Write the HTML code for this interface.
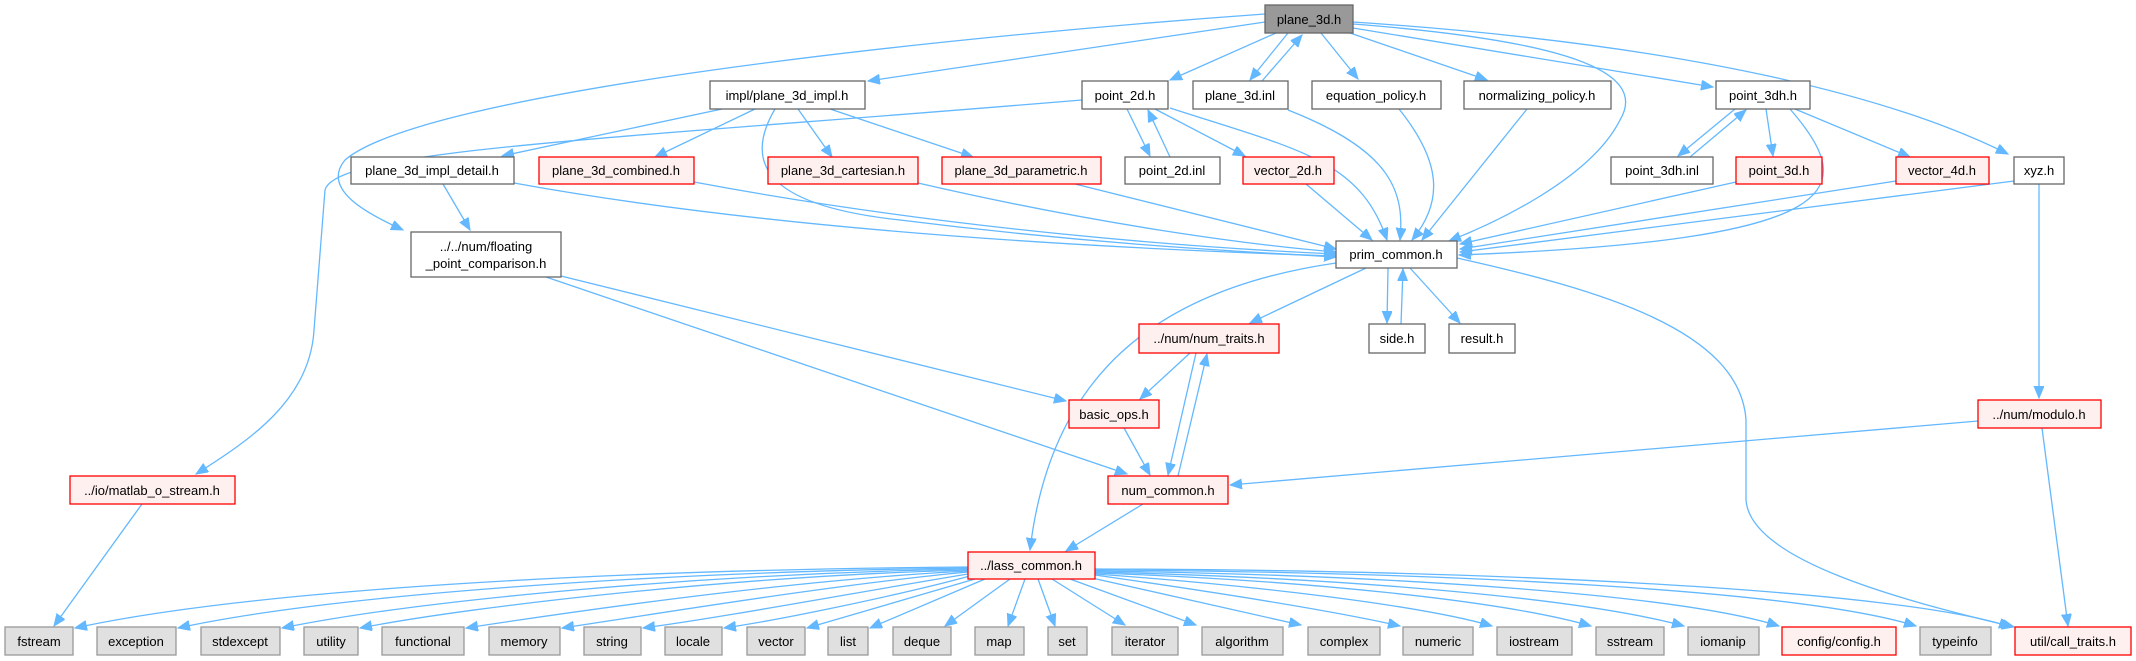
<!DOCTYPE html>
<html><head><meta charset="utf-8"><style>
html,body{margin:0;padding:0;background:#fff;}
svg{display:block;}
text{font-family:"Liberation Sans",sans-serif;font-size:13px;fill:#000;text-anchor:middle;}
.e{fill:none;stroke:#63b8ff;stroke-width:1.3;marker-end:url(#a);}
.n rect{fill:#fff;stroke:#666;stroke-width:1.3;}
.r rect{fill:#fff0f0;stroke:#f00;stroke-width:1.3;}
.g rect{fill:#e0e0e0;stroke:#999;stroke-width:1.3;}
</style></head><body>
<svg width="2136" height="661" viewBox="0 0 2136 661" xmlns="http://www.w3.org/2000/svg">
<defs><marker id="a" markerUnits="userSpaceOnUse" markerWidth="14" markerHeight="12" refX="12" refY="5" orient="auto"><path d="M0,0 L12,5 L0,10 Z" fill="#63b8ff" stroke="#63b8ff"/></marker></defs>

<!-- edges -->
<g>
<path class="e" d="M1265,14 C900,40 420,95 345,160 C320,190 370,215 403,230"/>
<path class="e" d="M1265,22 L868,81"/>
<path class="e" d="M1276,33 L1170,80"/>
<path class="e" d="M1288,33 L1250,80"/>
<path class="e" d="M1262,81 L1302,35"/>
<path class="e" d="M1321,33 L1358,79"/>
<path class="e" d="M1350,33 L1487,80"/>
<path class="e" d="M1353,28 L1713,87"/>
<path class="e" d="M1353,22 C1700,45 1900,100 2008,154"/>
<path class="e" d="M1353,24 C1560,40 1650,70 1620,120 C1590,180 1490,225 1449,241"/>
<path class="e" d="M1082,100 C600,140 335,150 325,190 L314,330 C310,400 250,440 196,474"/>
<path class="e" d="M722,109 L502,156"/>
<path class="e" d="M755,109 L655,157"/>
<path class="e" d="M798,109 L832,157"/>
<path class="e" d="M830,109 L973,157"/>
<path class="e" d="M775,109 C745,160 760,205 900,220 C1100,245 1250,252 1336,257"/>
<path class="e" d="M443,184 L470,230"/>
<path class="e" d="M514,183 C800,235 1150,250 1336,256"/>
<path class="e" d="M694,182 C950,230 1200,248 1336,254"/>
<path class="e" d="M918,183 C1100,225 1250,245 1336,252"/>
<path class="e" d="M1075,184 L1336,249"/>
<path class="e" d="M1127,109 L1150,156"/>
<path class="e" d="M1170,157 L1148,110"/>
<path class="e" d="M1155,109 L1245,156"/>
<path class="e" d="M1170,108 C1300,150 1360,160 1387,240"/>
<path class="e" d="M1288,110 C1390,150 1405,190 1400,240"/>
<path class="e" d="M1306,184 L1372,240"/>
<path class="e" d="M1399,109 C1440,160 1445,200 1412,240"/>
<path class="e" d="M1527,109 L1422,240"/>
<path class="e" d="M1735,109 L1678,156"/>
<path class="e" d="M1690,157 L1746,110"/>
<path class="e" d="M1766,109 L1773,156"/>
<path class="e" d="M1795,109 L1910,157"/>
<path class="e" d="M1790,109 C1860,190 1850,240 1459,255"/>
<path class="e" d="M1736,182 L1460,244"/>
<path class="e" d="M1896,181 L1460,249"/>
<path class="e" d="M2014,181 L1460,252"/>
<path class="e" d="M2039,184 L2039,398"/>
<path class="e" d="M1336,263 C1150,290 1050,380 1030,550"/>
<path class="e" d="M1366,268 L1250,323"/>
<path class="e" d="M1388,268 L1387,323"/>
<path class="e" d="M1401,324 L1403,269"/>
<path class="e" d="M1410,268 L1460,323"/>
<path class="e" d="M1457,258 C1600,290 1740,330 1746,420 L1746,500 C1750,560 1900,600 2014,627"/>
<path class="e" d="M1190,353 L1140,399"/>
<path class="e" d="M1196,353 L1168,475"/>
<path class="e" d="M1178,476 L1207,354"/>
<path class="e" d="M1124,428 L1150,475"/>
<path class="e" d="M561,276 L1066,401"/>
<path class="e" d="M546,277 L1127,474"/>
<path class="e" d="M1978,421 L1230,485"/>
<path class="e" d="M2042,428 L2068,626"/>
<path class="e" d="M1143,504 L1066,551"/>
<path class="e" d="M142,504 L54,626"/>
<!-- lass_common fan -->
<path class="e" d="M968,567 C600,570 250,590 75,628"/>
<path class="e" d="M968,568 C650,572 330,595 178,628"/>
<path class="e" d="M968,569 C700,574 420,600 282,628"/>
<path class="e" d="M968,570 C740,576 480,605 360,628"/>
<path class="e" d="M968,571 C790,580 570,612 466,628"/>
<path class="e" d="M968,572 C830,585 650,615 562,628"/>
<path class="e" d="M968,574 C870,590 720,618 643,628"/>
<path class="e" d="M970,576 C900,595 780,620 724,628"/>
<path class="e" d="M975,579 L807,628"/>
<path class="e" d="M985,579 L870,628"/>
<path class="e" d="M1010,579 L945,626"/>
<path class="e" d="M1025,579 L1008,626"/>
<path class="e" d="M1038,579 L1055,626"/>
<path class="e" d="M1052,579 L1125,625"/>
<path class="e" d="M1070,579 L1196,625"/>
<path class="e" d="M1092,578 L1301,625"/>
<path class="e" d="M1095,575 C1200,590 1330,610 1400,626"/>
<path class="e" d="M1095,574 C1250,585 1420,605 1492,626"/>
<path class="e" d="M1095,573 C1300,580 1500,600 1591,626"/>
<path class="e" d="M1095,572 C1350,578 1580,598 1684,626"/>
<path class="e" d="M1095,571 C1400,575 1680,595 1779,626"/>
<path class="e" d="M1095,570 C1450,572 1800,590 1916,626"/>
<path class="e" d="M1095,569 C1500,570 1900,590 2011,627"/>
</g>

<!-- nodes -->
<g class="n" style="fill:#999"><rect x="1265" y="5" width="88" height="28" style="fill:#999;stroke:#666"/><text x="1309" y="24">plane_3d.h</text></g>
<g class="n"><rect x="710" y="81" width="155" height="28"/><text x="787" y="100">impl/plane_3d_impl.h</text></g>
<g class="n"><rect x="1082" y="81" width="86" height="28"/><text x="1125" y="100">point_2d.h</text></g>
<g class="n"><rect x="1193" y="81" width="95" height="28"/><text x="1240" y="100">plane_3d.inl</text></g>
<g class="n"><rect x="1312" y="81" width="129" height="28"/><text x="1376" y="100">equation_policy.h</text></g>
<g class="n"><rect x="1464" y="81" width="147" height="28"/><text x="1537" y="100">normalizing_policy.h</text></g>
<g class="n"><rect x="1716" y="81" width="94" height="28"/><text x="1763" y="100">point_3dh.h</text></g>
<g class="n"><rect x="351" y="157" width="163" height="27"/><text x="432" y="175">plane_3d_impl_detail.h</text></g>
<g class="r"><rect x="539" y="157" width="155" height="27"/><text x="616" y="175">plane_3d_combined.h</text></g>
<g class="r"><rect x="768" y="157" width="150" height="27"/><text x="843" y="175">plane_3d_cartesian.h</text></g>
<g class="r"><rect x="942" y="157" width="159" height="27"/><text x="1021" y="175">plane_3d_parametric.h</text></g>
<g class="n"><rect x="1125" y="157" width="95" height="27"/><text x="1172" y="175">point_2d.inl</text></g>
<g class="r"><rect x="1243" y="157" width="91" height="27"/><text x="1288" y="175">vector_2d.h</text></g>
<g class="n"><rect x="1611" y="157" width="102" height="27"/><text x="1662" y="175">point_3dh.inl</text></g>
<g class="r"><rect x="1736" y="157" width="86" height="27"/><text x="1779" y="175">point_3d.h</text></g>
<g class="r"><rect x="1896" y="157" width="93" height="27"/><text x="1942" y="175">vector_4d.h</text></g>
<g class="n"><rect x="2014" y="157" width="50" height="27"/><text x="2039" y="175">xyz.h</text></g>
<g class="n"><rect x="411" y="232" width="150" height="45"/><text x="486" y="251">../../num/floating</text><text x="486" y="268">_point_comparison.h</text></g>
<g class="n"><rect x="1336" y="241" width="121" height="27"/><text x="1396" y="259">prim_common.h</text></g>
<g class="r"><rect x="1139" y="324" width="140" height="29"/><text x="1209" y="343">../num/num_traits.h</text></g>
<g class="n"><rect x="1369" y="324" width="56" height="29"/><text x="1397" y="343">side.h</text></g>
<g class="n"><rect x="1449" y="324" width="66" height="29"/><text x="1482" y="343">result.h</text></g>
<g class="r"><rect x="1069" y="400" width="90" height="28"/><text x="1114" y="419">basic_ops.h</text></g>
<g class="r"><rect x="1978" y="400" width="123" height="28"/><text x="2039" y="419">../num/modulo.h</text></g>
<g class="r"><rect x="70" y="476" width="165" height="28"/><text x="152" y="495">../io/matlab_o_stream.h</text></g>
<g class="r"><rect x="1108" y="476" width="120" height="28"/><text x="1168" y="495">num_common.h</text></g>
<g class="r"><rect x="968" y="552" width="127" height="27"/><text x="1031" y="570">../lass_common.h</text></g>
<g class="g"><rect x="5" y="627" width="68" height="28"/><text x="39" y="646">fstream</text></g>
<g class="g"><rect x="97" y="627" width="79" height="28"/><text x="136" y="646">exception</text></g>
<g class="g"><rect x="201" y="627" width="79" height="28"/><text x="240" y="646">stdexcept</text></g>
<g class="g"><rect x="304" y="627" width="54" height="28"/><text x="331" y="646">utility</text></g>
<g class="g"><rect x="382" y="627" width="82" height="28"/><text x="423" y="646">functional</text></g>
<g class="g"><rect x="489" y="627" width="71" height="28"/><text x="524" y="646">memory</text></g>
<g class="g"><rect x="584" y="627" width="57" height="28"/><text x="612" y="646">string</text></g>
<g class="g"><rect x="665" y="627" width="57" height="28"/><text x="693" y="646">locale</text></g>
<g class="g"><rect x="747" y="627" width="58" height="28"/><text x="776" y="646">vector</text></g>
<g class="g"><rect x="828" y="627" width="40" height="28"/><text x="848" y="646">list</text></g>
<g class="g"><rect x="893" y="627" width="58" height="28"/><text x="922" y="646">deque</text></g>
<g class="g"><rect x="975" y="627" width="49" height="28"/><text x="999" y="646">map</text></g>
<g class="g"><rect x="1048" y="627" width="39" height="28"/><text x="1067" y="646">set</text></g>
<g class="g"><rect x="1112" y="627" width="66" height="28"/><text x="1145" y="646">iterator</text></g>
<g class="g"><rect x="1202" y="627" width="81" height="28"/><text x="1242" y="646">algorithm</text></g>
<g class="g"><rect x="1308" y="627" width="72" height="28"/><text x="1344" y="646">complex</text></g>
<g class="g"><rect x="1403" y="627" width="70" height="28"/><text x="1438" y="646">numeric</text></g>
<g class="g"><rect x="1497" y="627" width="75" height="28"/><text x="1534" y="646">iostream</text></g>
<g class="g"><rect x="1596" y="627" width="68" height="28"/><text x="1630" y="646">sstream</text></g>
<g class="g"><rect x="1688" y="627" width="71" height="28"/><text x="1723" y="646">iomanip</text></g>
<g class="r"><rect x="1782" y="627" width="114" height="28"/><text x="1839" y="646">config/config.h</text></g>
<g class="g"><rect x="1920" y="627" width="71" height="28"/><text x="1955" y="646">typeinfo</text></g>
<g class="r"><rect x="2015" y="627" width="116" height="28"/><text x="2073" y="646">util/call_traits.h</text></g>
</svg>
</body></html>
